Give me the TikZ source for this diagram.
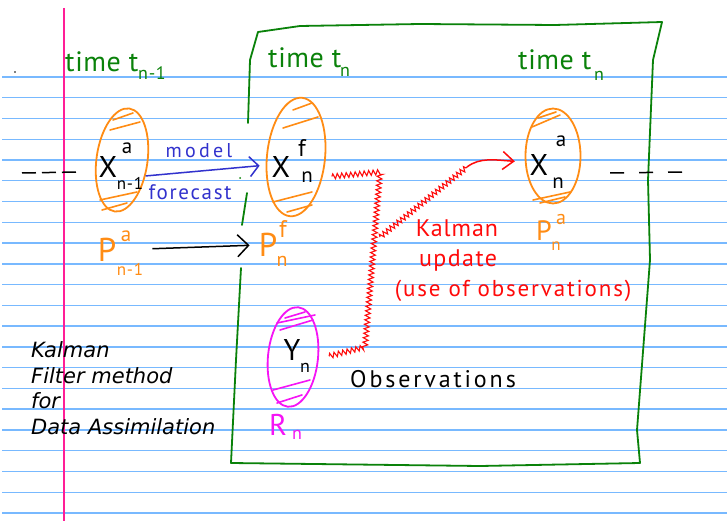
\documentclass[tikz,border=0pt]{standalone}
\usepackage{fontspec}
\setmainfont{DejaVu Sans}
\newfontfamily\hand{PT Sans}
\usetikzlibrary{shapes.geometric,decorations.pathmorphing,arrows.meta,calc}
\definecolor{rulecol}{RGB}{120,185,255}
\definecolor{margincol}{RGB}{255,30,150}
\definecolor{gframe}{RGB}{10,130,10}
\definecolor{orangec}{RGB}{255,140,20}
\definecolor{bluec}{RGB}{50,50,205}
\definecolor{redc}{RGB}{255,10,10}
\definecolor{magc}{RGB}{245,20,245}
\newcommand\hwf[2]{\hand\fontsize{#1}{#1}\selectfont\addfontfeature{LetterSpace=#2}}
\tikzset{
  rulestyle/.style={draw=rulecol, line width=1.4pt},
  framestyle/.style={draw=gframe, line width=1.8pt, line join=round, line cap=round},
  oell/.style={ellipse, draw=orangec, line width=1.8pt, inner sep=0pt},
  mell/.style={ellipse, draw=magc, line width=1.8pt, inner sep=0pt},
  hatchO/.style={draw=orangec, line width=1.6pt, line cap=round},
  hatchM/.style={draw=magc, line width=1.6pt, line cap=round},
  lbl/.style={inner sep=0pt, font=\hwf{#1}{4}},
  lbl/.default=30,
  greentxt/.style={inner sep=0pt, text=gframe, font=\hwf{28}{2}, anchor=base west},
  greensub/.style={inner sep=0pt, text=gframe, font=\hwf{18}{4}, anchor=base west},
  typed/.style={inner sep=0pt, anchor=base west, font=\fontsize{21}{24}\selectfont\itshape},
  bluearr/.style={draw=bluec, line width=1.5pt, -{Straight Barb[length=9pt,width=20pt,line width=1.5pt]}},
  blackarr/.style={draw=black, line width=1.5pt, -{Straight Barb[length=11pt,width=22pt,line width=1.5pt]}},
  redarr/.style={draw=redc, line width=1.5pt, -{Straight Barb[length=11pt,width=18pt,line width=1.5pt]}},
  zz/.style={draw=redc, line width=1.1pt, decorate, decoration={zigzag, segment length=4.5pt, amplitude=2.5pt}},
  dashblk/.style={draw=black, line width=1.5pt}
}
\begin{document}
\begin{tikzpicture}[x=1pt,y=-1pt]
\useasboundingbox (0,0) rectangle (727,521);
\fill[white] (0,0) rectangle (727,521);
% ruled paper
\foreach \k in {0,...,21} \draw[rulestyle] (2,77+20.76*\k) -- (727,77+20.76*\k);
\draw[draw=margincol, line width=1.4pt] (64,8) -- (64,521);
\fill[black] (15,72) circle (0.8pt);
% green frame
\draw[framestyle] (241,268) -- (236,360) -- (231,463) -- (480,466) -- (640,463) -- (637,430) -- (650,260) -- (648,180) -- (653,60) -- (662,22) -- (555,25) -- (420,24) -- (300,26) -- (258,32) -- (250,60) -- (248,123);
\draw[framestyle] (247,193) -- (242,225);
\fill[gframe] (240,178) circle (1pt);
% time labels
\node[greentxt] (t1) at (65,72) {time t};
\node[greensub] (t1s) at (138,80) {n-1};
\node[greentxt] (t2) at (268,68) {time t};
\node[greensub] (t2s) at (340,77) {n};
\node[greentxt] (t3) at (518,70) {time t};
\node[greensub] (t3s) at (594,81) {n};
% ellipses
\node[oell, minimum width=51pt, minimum height=104pt, rotate=-8] (xa1) at (122,160) {};
\node[oell, minimum width=58pt, minimum height=119pt, rotate=-6] (xf) at (296,157) {};
\node[oell, minimum width=55pt, minimum height=95pt] (xa) at (553,156) {};
\node[mell, minimum width=50pt, minimum height=100pt, rotate=-6] (yn) at (293,357) {};
% hatches
\draw[hatchO] (110,130) -- (140,122) (113,120) -- (133,113);
\draw[hatchO] (100,200) -- (137,192) (102,210) -- (127,203);
\draw[hatchO] (283,128) -- (318,117) (293,110) -- (312,103);
\draw[hatchO] (273,202) -- (312,192) (287,212) -- (312,205);
\draw[hatchO] (532,127) -- (560,115) (538,118) -- (556,112);
\draw[hatchO] (533,200) -- (570,192) (540,203) -- (565,197);
\draw[hatchM] (277,323) -- (315,315) (280,330) -- (313,320) (285,318) -- (305,312);
\draw[hatchM] (273,390) -- (310,380) (277,403) -- (302,395);
% state labels
\node[lbl] (xa1X) at (108,167) {X};
\node[lbl=21] (xa1p) at (127,148) {a};
\node[lbl=17] (xa1b) at (130,183) {n-1};
\node[lbl] (xfX) at (281,167) {X};
\node[lbl=24] (xfp) at (302,148) {f};
\node[lbl=21] (xfb) at (307,177) {n};
\node[lbl] (xaX) at (539,165) {X};
\node[lbl=21] (xap) at (561,141) {a};
\node[lbl=21] (xab) at (558,183) {n};
\node[lbl] (ynY) at (292,350) {Y};
\node[lbl=18] (ynb) at (305,368) {n};
% covariance labels
\node[lbl=33, text=orangec] (pa1) at (107,250) {P};
\node[lbl=21, text=orangec] (pa1p) at (126,236) {a};
\node[lbl=17, text=orangec] (pa1b) at (130,269) {n-1};
\node[lbl=33, text=orangec] (pf) at (268,245) {P};
\node[lbl=24, text=orangec] (pfp) at (283,229) {f};
\node[lbl=20, text=orangec] (pfb) at (282,261) {n};
\node[lbl=28, text=orangec] (pa) at (544,231) {P};
\node[lbl=20, text=orangec] (pap) at (561,219) {a};
\node[lbl=17, text=orangec] (pab) at (556,246) {n};
\node[lbl=30, text=magc] (rn) at (278,425) {R};
\node[lbl=18, text=magc] (rnb) at (297,435) {n};
% connectors
\coordinate (dl1) at (22,173);
\coordinate (dl2) at (77,172);
\draw[dashblk, dash pattern=on 14pt off 6pt] (dl1) -- (dl2);
\coordinate (dr1) at (610,173);
\coordinate (dr2) at (683,172);
\draw[dashblk, dash pattern=on 14pt off 15pt] (dr1) -- (dr2);
\draw[bluearr, shorten >=6pt] (xa1.-26) -- (xf.201);
\node[inner sep=0pt, text=bluec, font=\hwf{20}{16}] (model) at (199,151) {model};
\node[inner sep=0pt, text=bluec, font=\hwf{21}{8}] (fc) at (190,192) {forecast};
\draw[blackarr, shorten <=36pt, shorten >=9pt] (pa1.east) -- (pf.west);
\coordinate (r1) at (380,172);
\coordinate (r2) at (365,347);
\coordinate (rb) at (380,237);
\coordinate (r3) at (467,167);
\draw[zz] ([xshift=9pt]xf.-30) -- (r1) -- (r2) -- ([xshift=10pt]yn.8);
\draw[zz] (rb) -- (r3);
\draw[redarr, shorten >=10pt] (r3) .. controls (480,157) and (495,160) .. (xa.192);
\node[inner sep=0pt, text=redc, font=\hwf{24}{4}] (k1) at (457,228) {Kalman};
\node[inner sep=0pt, text=redc, font=\hwf{24}{6}] (k2) at (458,260) {update};
\node[inner sep=0pt, text=redc, font=\hwf{23}{8}] (k3) at (513,291) {(use of observations)};
\node[inner sep=0pt, anchor=base west, font=\hwf{24}{12}] (obs) at (350,387) {Observations};
% typed caption
\node[typed] (c1) at (31,357) {Kalman};
\node[typed] (c2) at (31,383) {Filter method};
\node[typed] (c3) at (31,408) {for};
\node[typed] (c4) at (31,434) {Data Assimilation};
\end{tikzpicture}
\end{document}
